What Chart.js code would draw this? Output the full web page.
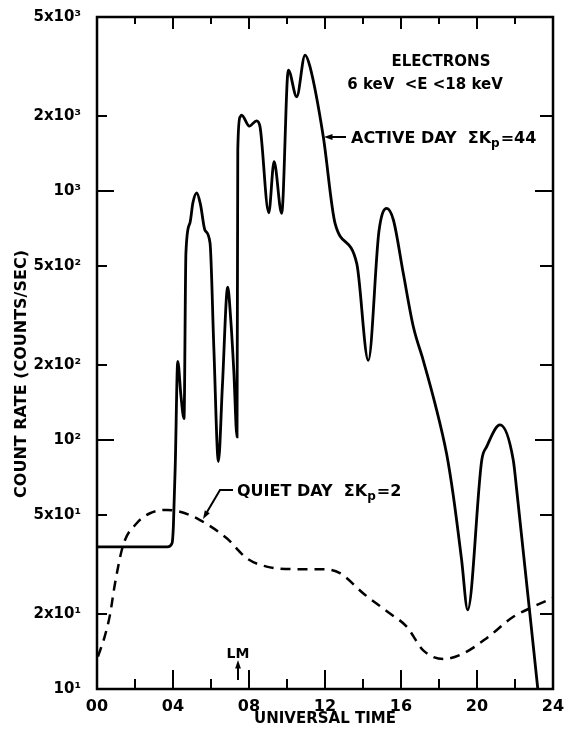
<!DOCTYPE html>
<html>
<head>
<meta charset="utf-8">
<script src="https://cdn.jsdelivr.net/npm/chart.js@4/dist/chart.umd.min.js"></script>
<style>
  body { margin: 0; background: #fff; }
  #wrap { width: 567px; height: 736px; position: relative; }
</style>
</head>
<body>
<div id="wrap"><canvas id="rateChart"></canvas></div>
<script>
// Active day (sum Kp = 44): universal time (h) and count rate
const activeHours = [0, 3.7, 3.95, 4.02, 4.12, 4.25, 4.42, 4.58, 4.68, 4.89, 5.05, 5.25, 5.45, 5.68, 5.95,
  6.15, 6.39, 6.6, 6.88, 7.03, 7.2, 7.37, 7.41, 7.53, 7.61, 8.02, 8.4, 8.58, 9.04, 9.32, 9.72,
  10.07, 10.51, 10.95, 11.21, 11.91, 12.53, 13.67, 14.28, 14.84, 15.25, 15.6, 16.12, 16.65, 17.17,
  17.79, 18.4, 18.75, 19.19, 19.51, 20.25, 20.51, 21.21, 21.91, 22.09, 23.2];
const activeRate = [37.2, 37.2, 38.5, 45, 80, 207, 150, 122, 564, 743, 900, 982, 880, 697, 618,
  234, 82, 165, 411, 312, 190, 103, 1460, 1982, 2019, 1824, 1915, 1811, 818, 1311, 813,
  3061, 2392, 3517, 3157, 1652, 742, 512, 209, 690, 852, 765, 467, 285, 209,
  140, 88, 60, 33, 20.8, 83, 94, 115, 83, 63, 10];

// Quiet day (sum Kp = 2)
const quietHours = [0.05, 0.4, 0.68, 0.95, 1.38, 2.09, 2.79, 3.67, 4.37, 5.42, 6.83, 7.88, 8.93, 10.33,
  11.91, 12.79, 14.02, 15.42, 16.3, 17.17, 18.23, 19.28, 20.51, 21.91, 22.96, 24];
const quietRate = [13.5, 16.2, 19.8, 26.6, 37.9, 46.3, 50.8, 52.4, 51.5, 47.7, 40.3, 33.5, 31, 30.3,
  30.3, 29.2, 24.2, 20.1, 17.8, 14.3, 13.2, 13.9, 16.0, 19.5, 21.4, 23.2];

// axis ticks
const xTickValues = [0, 4, 8, 12, 16, 20, 24];
const xTickLabels = ['00', '04', '08', '12', '16', '20', '24'];
const xInnerTicks = [2, 4, 6, 8, 10, 12, 14, 16, 18, 20, 22];
const yTickValues = [10, 20, 50, 100, 200, 500, 1000, 2000, 5000];
const yTickLabels = ['10¹', '2x10¹', '5x10¹', '10²', '2x10²', '5x10²', '10³', '2x10³', '5x10³'];

const FONT = "'DejaVu Sans', 'Liberation Sans', sans-serif";
Chart.defaults.font.family = FONT;
Chart.defaults.color = '#000';

function arrowHead(ctx, x, y, ang) {
  ctx.beginPath();
  ctx.moveTo(x, y);
  ctx.lineTo(x - 9 * Math.cos(ang - 0.33), y - 9 * Math.sin(ang - 0.33));
  ctx.lineTo(x - 9 * Math.cos(ang + 0.33), y - 9 * Math.sin(ang + 0.33));
  ctx.closePath();
  ctx.fill();
}

// text with a K subscript p
function kpText(ctx, x, y, pre, post, size) {
  ctx.font = 'bold ' + size + 'px ' + FONT;
  ctx.fillText(pre, x, y);
  let w = ctx.measureText(pre).width;
  ctx.font = 'bold ' + Math.round(size * 0.75) + 'px ' + FONT;
  ctx.fillText('p', x + w, y + 4);
  w += ctx.measureText('p').width + 1;
  ctx.font = 'bold ' + size + 'px ' + FONT;
  ctx.fillText(post, x + w, y);
}

const frameAndNotes = {
  id: 'frameAndNotes',
  afterDraw(chart) {
    const { ctx, chartArea: a, scales: { x, y } } = chart;
    ctx.save();
    ctx.strokeStyle = '#000';
    ctx.fillStyle = '#000';
    ctx.lineWidth = 2.5;
    ctx.strokeRect(a.left, a.top, a.right - a.left, a.bottom - a.top);

    // inward tick marks
    ctx.lineWidth = 2;
    ctx.beginPath();
    xInnerTicks.forEach(h => {
      const px = x.getPixelForValue(h);
      const major = h % 4 === 0;
      ctx.moveTo(px, a.bottom); ctx.lineTo(px, a.bottom - (major ? 19 : 10));
      ctx.moveTo(px, a.top); ctx.lineTo(px, a.top + (major ? 12 : 7));
    });
    yTickValues.slice(1, -1).forEach(v => {
      const py = y.getPixelForValue(v);
      const major = [100, 1000].includes(v);
      ctx.moveTo(a.left, py); ctx.lineTo(a.left + (major ? 17 : 10), py);
      ctx.moveTo(a.right, py); ctx.lineTo(a.right - (major ? 18 : 13), py);
    });
    ctx.stroke();

    // y title
    ctx.save();
    ctx.translate(22, 374);
    ctx.rotate(-Math.PI / 2);
    ctx.textAlign = 'center';
    ctx.textBaseline = 'middle';
    ctx.font = 'bold 16px ' + FONT;
    ctx.fillText('COUNT RATE (COUNTS/SEC)', 0, 0);
    ctx.restore();

    // notes
    ctx.textAlign = 'center';
    ctx.textBaseline = 'alphabetic';
    ctx.font = 'bold 15px ' + FONT;
    ctx.fillText('ELECTRONS', 441, 66);
    ctx.fillText('6 keV  <E <18 keV', 425, 89);

    ctx.textAlign = 'left';
    kpText(ctx, 351, 143, 'ACTIVE DAY  ΣK', '=44', 16);
    ctx.lineWidth = 2;
    ctx.beginPath();
    ctx.moveTo(346, 137); ctx.lineTo(330, 137);
    ctx.stroke();
    arrowHead(ctx, 324, 137, Math.PI);

    kpText(ctx, 237, 496, 'QUIET DAY  ΣK', '=2', 16);
    ctx.beginPath();
    ctx.moveTo(233, 490); ctx.lineTo(220, 490); ctx.lineTo(207, 512);
    ctx.stroke();
    arrowHead(ctx, 203, 519, Math.atan2(22, -13));

    ctx.textAlign = 'center';
    ctx.font = 'bold 14px ' + FONT;
    ctx.fillText('LM', 238, 658);
    ctx.beginPath();
    ctx.moveTo(238, 680); ctx.lineTo(238, 666);
    ctx.stroke();
    arrowHead(ctx, 238, 660, -Math.PI / 2);
    ctx.restore();
  }
};

new Chart(document.getElementById('rateChart'), {
  type: 'line',
  data: {
    datasets: [{
      label: 'Active day',
      data: activeHours.map((h, i) => ({ x: h, y: activeRate[i] })),
      borderColor: '#000',
      borderWidth: 2.8,
      pointRadius: 0,
      cubicInterpolationMode: 'monotone',
      fill: false
    }, {
      label: 'Quiet day',
      data: quietHours.map((h, i) => ({ x: h, y: quietRate[i] })),
      borderColor: '#000',
      borderWidth: 2.5,
      borderDash: [10, 7],
      pointRadius: 0,
      cubicInterpolationMode: 'monotone',
      fill: false
    }]
  },
  options: {
    responsive: true,
    maintainAspectRatio: false,
    animation: false,
    layout: { padding: { top: 17, right: 14, left: 0, bottom: 0 } },
    plugins: { legend: { display: false }, tooltip: { enabled: false } },
    scales: {
      x: {
        type: 'linear',
        min: 0,
        max: 24,
        grid: { display: false },
        border: { display: false },
        afterBuildTicks: s => { s.ticks = xTickValues.map(v => ({ value: v })); },
        afterFit: s => { s.height = 47; s.paddingLeft = 0; s.paddingRight = 0; },
        ticks: {
          maxRotation: 0,
          padding: 0,
          font: { size: 16, weight: 'bold' },
          callback: v => xTickLabels[xTickValues.indexOf(v)]
        },
        title: {
          display: true,
          text: 'UNIVERSAL TIME',
          font: { size: 15, weight: 'bold' },
          padding: { top: 0, bottom: 8 }
        }
      },
      y: {
        type: 'logarithmic',
        min: 10,
        max: 5000,
        grid: { display: false },
        border: { display: false },
        afterBuildTicks: s => { s.ticks = yTickValues.map(v => ({ value: v })); },
        afterFit: s => { s.width = 97; s.paddingTop = 0; s.paddingBottom = 0; },
        ticks: {
          padding: 8,
          font: { size: 15, weight: 'bold' },
          callback: v => yTickLabels[yTickValues.indexOf(v)]
        }
      }
    }
  },
  plugins: [frameAndNotes]
});
</script>
</body>
</html>
